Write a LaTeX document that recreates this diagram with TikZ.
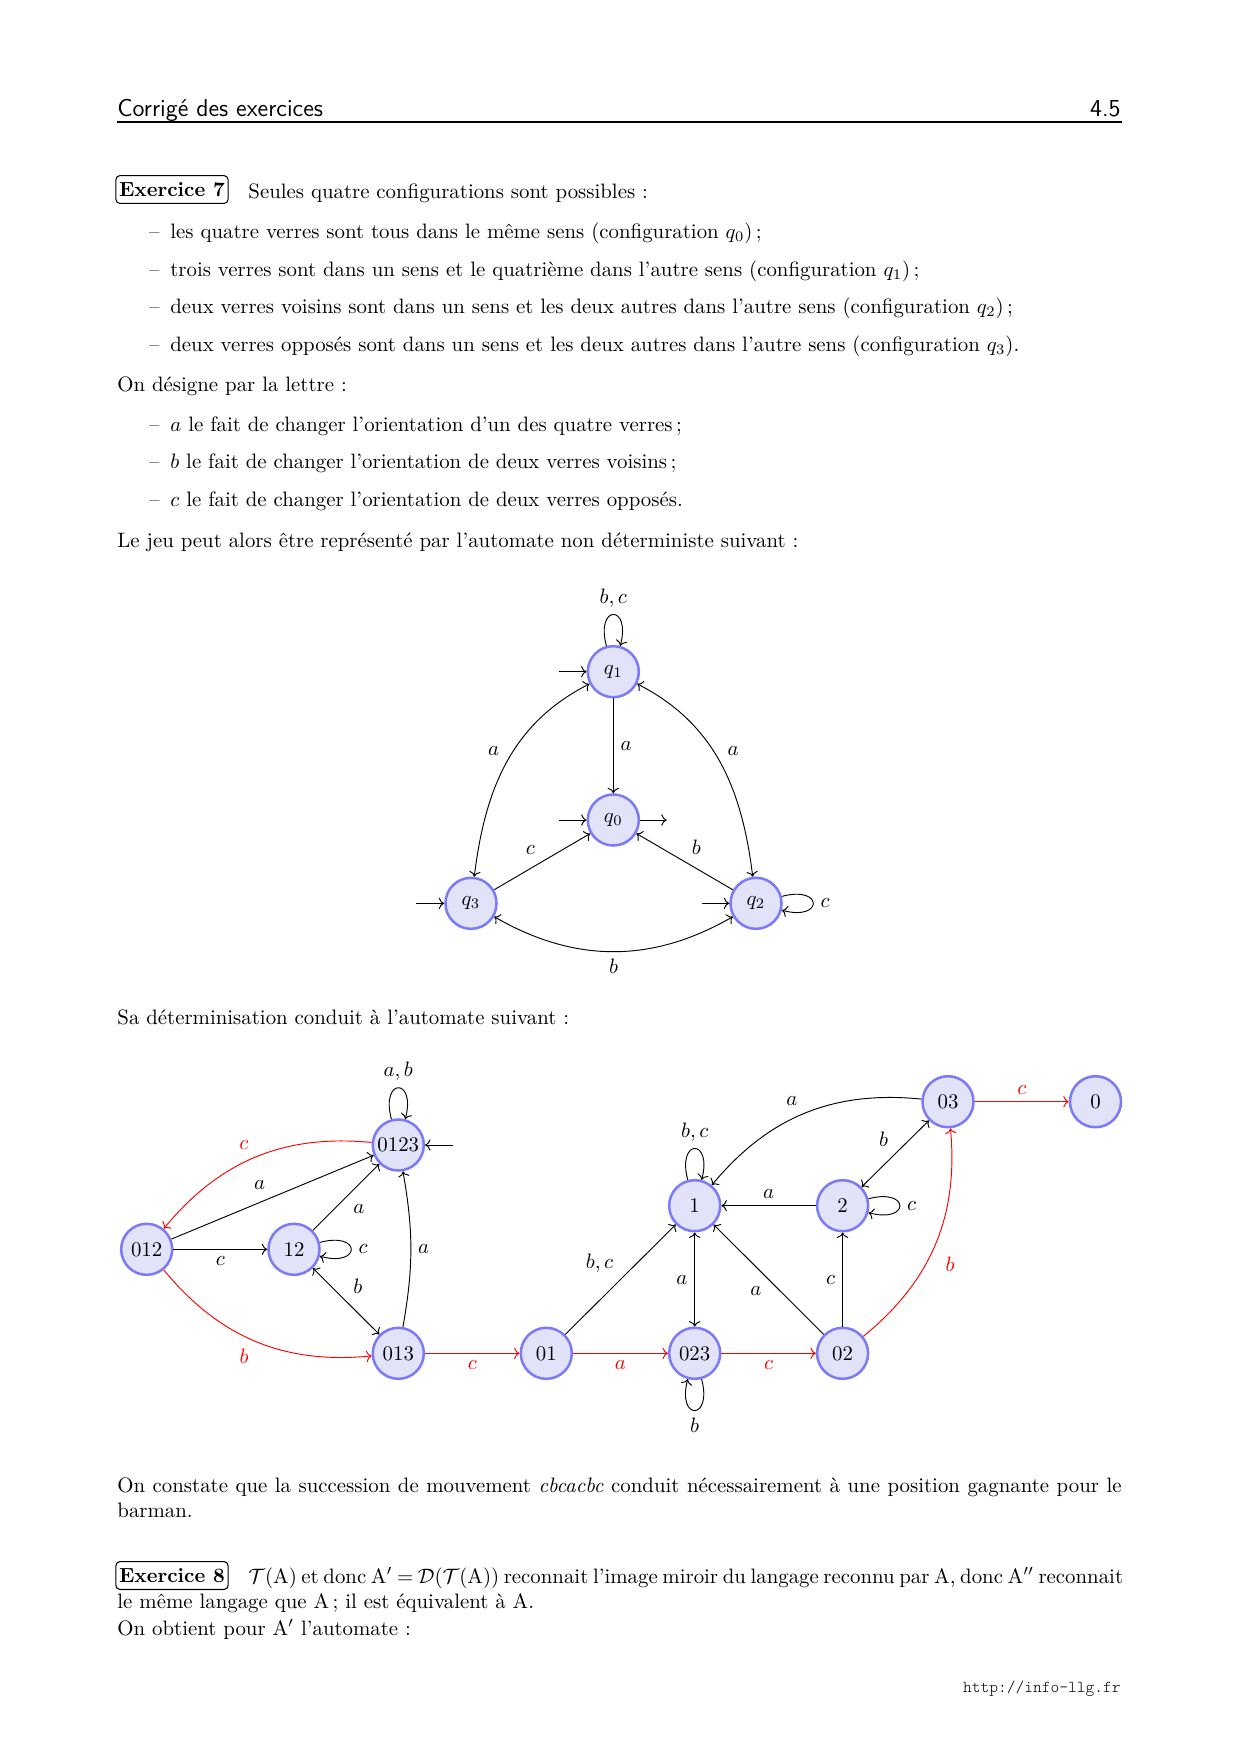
\documentclass[tikz,border=0pt]{standalone}
\usepackage{amsmath}
\usetikzlibrary{arrows.meta,calc,positioning}
\definecolor{stateline}{RGB}{122,122,250}
\definecolor{statefill}{RGB}{226,226,248}
\newcommand\bodysize{\fontsize{10}{12}\selectfont}
\newcommand\itm{\makebox[10.2pt][l]{–}}
\tikzset{
  st/.style={circle,draw=stateline,fill=statefill,line width=1.2pt,minimum size=24.5pt,inner sep=0.5pt,font=\fontsize{10}{12}\selectfont},
  lbl/.style={font=\fontsize{10}{12}\selectfont,inner sep=3.3pt},
  tr/.style={->,line width=0.45pt},
  rtr/.style={->,line width=0.45pt,red},
  txt/.style={anchor=base west,inner sep=0pt,font=\bodysize},
  exbox/.style={draw,rounded corners=2pt,line width=0.5pt,inner xsep=1.5pt,inner ysep=0pt,minimum width=52.8pt,minimum height=13.4pt,font=\fontsize{9.8}{12}\selectfont\bfseries},
}
\begin{document}
\begin{tikzpicture}[x=0.48pt,y=-0.48pt]
\fill[white] (0,0) rectangle (1240,1754);
\useasboundingbox (0,0) rectangle (1240,1754);
% header
\node[txt,font=\sffamily\fontsize{11.7}{14}\selectfont] (hdr) at (117,116) {Corrigé des exercices};
\node[anchor=base east,inner sep=0pt,font=\sffamily\fontsize{11.7}{14}\selectfont] (pg) at (1121,116) {4.5};
\draw[line width=0.6pt] (117,122) -- (1122,122);
% exercice 7
\node[exbox] (ex7) at (172,189.5) {Exercice 7};
\node[txt] (t1) at (248,198) {Seules quatre configurations sont possibles :};
\node[txt] (i1) at (148.7,238) {\itm les quatre verres sont tous dans le même sens (configuration $q_0$)\,;};
\node[txt] (i2) at (148.7,276) {\itm trois verres sont dans un sens et le quatrième dans l’autre sens (configuration $q_1$)\,;};
\node[txt] (i3) at (148.7,313) {\itm deux verres voisins sont dans un sens et les deux autres dans l’autre sens (configuration $q_2$)\,;};
\node[txt] (i4) at (148.7,351) {\itm deux verres opposés sont dans un sens et les deux autres dans l’autre sens (configuration $q_3$).};
\node[txt] (t2) at (117,391) {On désigne par la lettre :};
\node[txt] (j1) at (148.7,431.5) {\itm $a$ le fait de changer l’orientation d’un des quatre verres\,;};
\node[txt] (j2) at (148.7,468.5) {\itm $b$ le fait de changer l’orientation de deux verres voisins\,;};
\node[txt] (j3) at (148.7,506.5) {\itm $c$ le fait de changer l’orientation de deux verres opposés.};
\node[txt] (t3) at (117,547.5) {Le jeu peut alors être représenté par l’automate non déterministe suivant :};
% automate 1
\node[st] (q1) at (613.3,671.7) {$q_1$};
\node[st] (q0) at (613.3,820) {$q_0$};
\node[st] (q3) at (471,903.3) {$q_3$};
\node[st] (q2) at (756,903.3) {$q_2$};
\coordinate (q1i) at (559.3,671.7);
\coordinate (q0i) at (559.3,820);
\coordinate (q0o) at (666.7,820);
\coordinate (q3i) at (416,903.3);
\coordinate (q2i) at (701.7,903.3);
\draw[tr] (q1i) -- (q1);
\draw[tr] (q0i) -- (q0);
\draw[tr] (q0) -- (q0o);
\draw[tr] (q3i) -- (q3);
\draw[tr] (q2i) -- (q2);
\draw[tr] (q1) to[loop above] node[lbl,above] {$b,c$} (q1);
\draw[tr] (q2) to[loop right] node[lbl,right] {$c$} (q2);
\draw[tr] (q1) -- node[lbl,right] {$a$} (q0);
\draw[tr,<->] (q1) to[out=207,in=83] node[lbl,above left] {$a$} (q3);
\draw[tr,<->] (q1) to[out=-27,in=97] node[lbl,above right] {$a$} (q2);
\draw[tr] (q3) -- node[lbl,above left] {$c$} (q0);
\draw[tr] (q2) -- node[lbl,above right] {$b$} (q0);
\draw[tr,<->] (q3) to[bend right=30] node[lbl,below] {$b$} (q2);
% text
\node[txt] (t4) at (117,1024) {Sa déterminisation conduit à l’automate suivant :};
% automate 2
\node[st] (n0123) at (398.3,1145) {0123};
\node[st] (n012) at (146.7,1249.3) {012};
\node[st] (n12) at (294,1249.3) {12};
\node[st] (n013) at (398.3,1353.3) {013};
\node[st] (n01) at (546.3,1353.3) {01};
\node[st] (n023) at (694.7,1353.3) {023};
\node[st] (n02) at (842.6,1353.3) {02};
\node[st] (n1) at (694.7,1205.7) {1};
\node[st] (n2) at (842.6,1205.7) {2};
\node[st] (n03) at (948,1101.7) {03};
\node[st] (n0) at (1095.5,1101.7) {0};
\coordinate (n0123i) at (453.3,1145);
\draw[tr] (n0123i) -- (n0123);
\draw[tr] (n0123) to[loop above] node[lbl,above] {$a,b$} (n0123);
\draw[rtr] (n0123) to[bend right=28] node[lbl,above left] {$c$} (n012);
\draw[tr] (n012) -- node[lbl,above left] {$a$} (n0123);
\draw[tr] (n012) -- node[lbl,below] {$c$} (n12);
\draw[tr] (n12) -- node[lbl,below right] {$a$} (n0123);
\draw[tr] (n12) to[loop right] node[lbl,right] {$c$} (n12);
\draw[tr,<->] (n12) -- node[lbl,above right] {$b$} (n013);
\draw[tr] (n013) to[bend right=10] node[lbl,right] {$a$} (n0123);
\draw[rtr] (n012) to[bend right=28] node[lbl,below left] {$b$} (n013);
\draw[rtr] (n013) -- node[lbl,below] {$c$} (n01);
\draw[rtr] (n01) -- node[lbl,below] {$a$} (n023);
\draw[rtr] (n023) -- node[lbl,below] {$c$} (n02);
\draw[tr] (n023) to[loop below] node[lbl,below] {$b$} (n023);
\draw[tr] (n01) -- node[lbl,above left] {$b,c$} (n1);
\draw[tr,<->] (n023) -- node[lbl,left] {$a$} (n1);
\draw[tr] (n02) -- node[lbl,below left] {$a$} (n1);
\draw[tr] (n02) -- node[lbl,left] {$c$} (n2);
\draw[tr] (n2) -- node[lbl,above] {$a$} (n1);
\draw[tr] (n1) to[loop above] node[lbl,above] {$b,c$} (n1);
\draw[tr] (n2) to[loop right] node[lbl,right] {$c$} (n2);
\draw[tr,<->] (n2) -- node[lbl,above left] {$b$} (n03);
\draw[tr] (n03) to[bend right=28] node[lbl,above left] {$a$} (n1);
\draw[rtr] (n02) to[bend right=28] node[lbl,right,pos=0.4,xshift=6pt] {$b$} (n03);
\draw[rtr] (n03) -- node[lbl,above] {$c$} (n0);
% text
\node[txt] (t5) at (117,1492.5) {\makebox[482pt][s]{On constate que la succession de mouvement \emph{cbcacbc} conduit nécessairement à une position gagnante pour le}};
\node[txt] (t6) at (117,1517) {barman.};
\node[exbox] (ex8) at (172,1575.5) {Exercice 8};
\node[txt] (t7) at (248,1583) {\makebox[419pt][s]{$\mathcal{T}$(A) et donc A$'$ $=$ $\mathcal{D}$($\mathcal{T}$(A)) reconnait l’image miroir du langage reconnu par A, donc A$''$ reconnait}};
\node[txt] (t8) at (117,1608.5) {le même langage que A\,; il est équivalent à A.};
\node[txt] (t9) at (117,1635.5) {On obtient pour A$'$ l’automate :};
\node[anchor=base east,inner sep=0pt,font=\ttfamily\fontseries{l}\fontsize{8}{10}\selectfont] (url) at (1121,1692) {http://info-llg.fr};
\end{tikzpicture}
\end{document}
